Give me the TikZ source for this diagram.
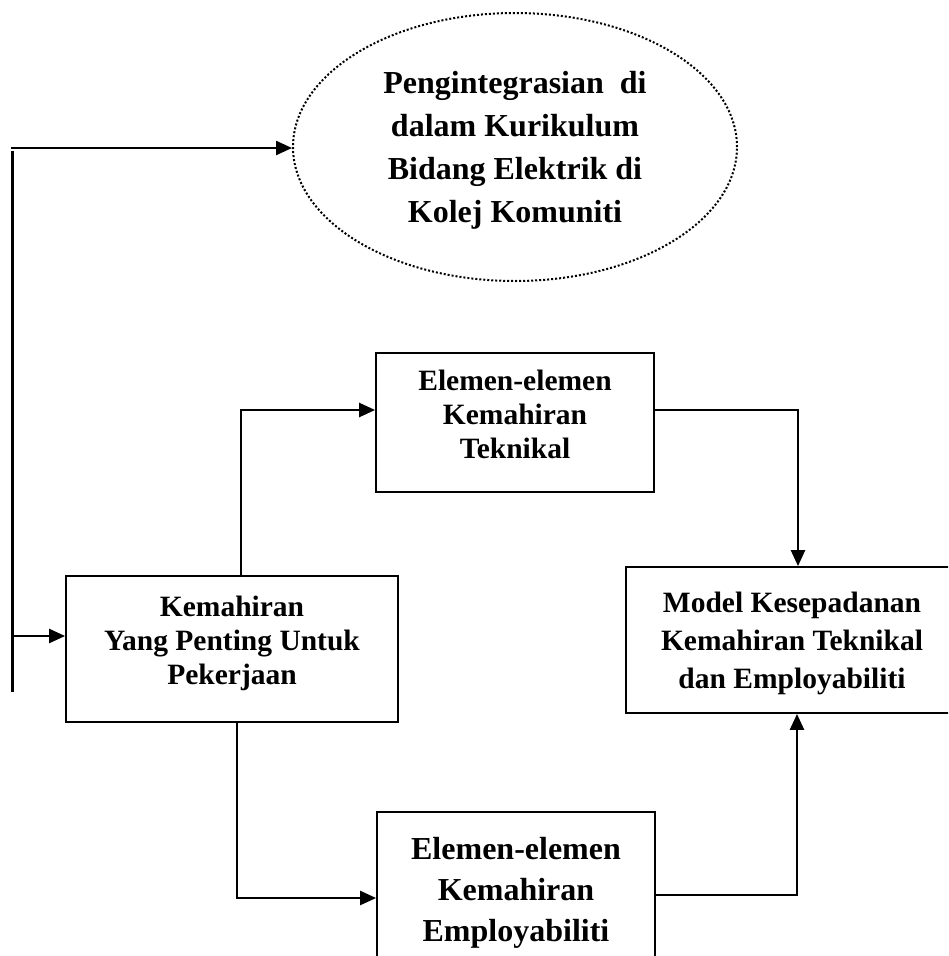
\documentclass[tikz,border=0pt]{standalone}
\usepackage{fontspec}
\setmainfont{Liberation Serif}
\usetikzlibrary{arrows.meta,shapes.geometric}

\begin{document}
\begin{tikzpicture}[x=1pt,y=-1pt,
  box/.style={draw,line width=1.8pt,inner sep=0pt},
  lbl/.style={align=center,font=\bfseries\fontsize{29.5}{34}\selectfont},
  conn/.style={line width=2.4pt,-{Triangle[length=16pt,width=14pt]}}]
\useasboundingbox (0,0) rectangle (948,956);
\clip (0,0) rectangle (948,956);

\node (ell) [ellipse,draw,dotted,line width=2pt,minimum width=444pt,minimum height=268pt,inner sep=0pt] at (515,147) {};
\node (elltxt) [lbl,font=\bfseries\fontsize{32}{43}\selectfont] at ([yshift=-3pt]ell.center) {Pengintegrasian\ \ di\\dalam Kurikulum\\Bidang Elektrik di\\Kolej Komuniti};

\node (tek) [box,minimum width=278pt,minimum height=139pt] at (515,422.5) {};
\node (tektxt) [lbl] at ([yshift=8pt]tek.center) {Elemen-elemen\\Kemahiran\\Teknikal};

\node (kem) [box,minimum width=332pt,minimum height=146pt] at (232,649) {};
\node (kemtxt) [lbl] at ([yshift=6pt]kem.center) {Kemahiran\\Yang Penting Untuk\\Pekerjaan};

\node (mod) [box,minimum width=332pt,minimum height=146pt] at (792,640) {};
\node (modtxt) [lbl,font=\bfseries\fontsize{29.5}{38}\selectfont] at ([yshift=-3pt]mod.center) {Model Kesepadanan\\Kemahiran Teknikal\\dan Employabiliti};

\node (emp) [box,minimum width=278pt,minimum height=154pt] at (516,889) {};
\node (emptxt) [lbl,font=\bfseries\fontsize{32}{41}\selectfont] at ([yshift=-4pt]emp.center) {Elemen-elemen\\Kemahiran\\Employabiliti};

% feedback line on the left
\coordinate (lt) at (11,148);
\coordinate (lv) at (12,151);
\coordinate (lb) at (12,692);
\coordinate (la) at (11,636);
\draw[line width=3pt] (lv) -- (lb);
\draw[conn] (lt) -- (lt -| ell.west);
\draw[conn] (la) -- (la -| kem.west);

% elbows
\coordinate (k1) at (241,410);
\coordinate (k2) at (798,410);
\coordinate (k3) at (237,898);
\coordinate (k4) at (797,895);
\draw[conn] (kem.north -| k1) -- (k1) -- (k1 -| tek.west);
\draw[conn] (k2 -| tek.east) -- (k2) -- (k2 |- mod.north);
\draw[conn] (kem.south -| k3) -- (k3) -- (k3 -| emp.west);
\draw[conn] (k4 -| emp.east) -- (k4) -- (k4 |- mod.south);
\end{tikzpicture}
\end{document}
